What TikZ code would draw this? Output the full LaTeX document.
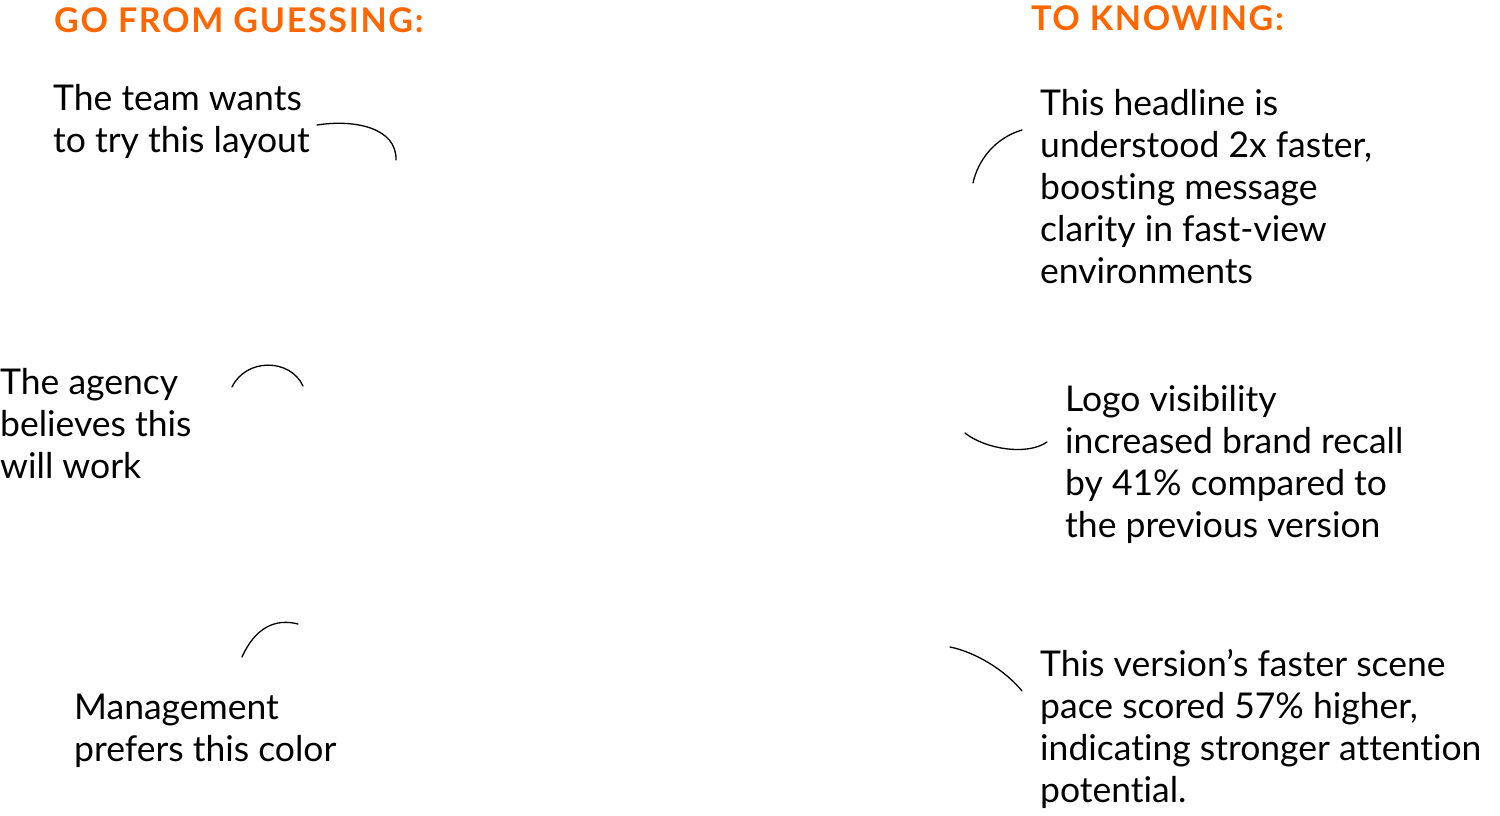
\documentclass[tikz,border=0pt]{standalone}
\usepackage{fontspec}
\setmainfont{Lato}[Ligatures=NoCommon]
\newfontfamily\headfont[LetterSpace=5.0]{Lato}
\usepackage{tikz}
\usetikzlibrary{positioning}
\definecolor{myorange}{RGB}{255,102,0}

\begin{document}
\begin{tikzpicture}[x=1pt, y=-1pt,
    note/.style={anchor=base west, inner sep=0pt, align=left, font=\fontsize{35.5}{42}\selectfont},
    heading/.style={anchor=base west, inner sep=0pt, text=myorange, font=\headfont\fontsize{34}{40}\selectfont\bfseries},
    swoosh/.style={line width=1.3pt, line cap=round}]
    \useasboundingbox (0,0) rectangle (1500,815);
    \node [heading] (guess) at (54,32) {GO FROM GUESSING:};
    \node [heading] (know) at (1031,30) {TO KNOWING:};
    % nodes sit on the baseline of their last line
    \node [note] (team) at (53,152) {The team wants\\to try this layout};
    \node [note] (agency) at (0,478) {The agency\\believes this\\will work};
    \node [note] (mgmt) at (74,761) {Management\\prefers this color};
    \node [note] (headline) at (1040,283) {This headline is\\understood 2x faster,\\boosting message\\clarity in fast-view\\environments};
    \node [note] (logo) at (1065,537) {Logo visibility\\increased brand recall\\by 41\% compared to\\the previous version};
    \node [note] (pace) at (1040,802) {This version’s faster scene\\pace scored 57\% higher,\\indicating stronger attention\\potential.};
    % hand drawn strokes
    \draw [swoosh] (317,125) .. controls (355,119) and (397,128) .. (396,160);
    \draw [swoosh] (232,387) .. controls (246,358) and (290,358) .. (303,386);
    \draw [swoosh] (242,657) .. controls (255,628) and (275,618) .. (298,624);
    \draw [swoosh] (973,183) .. controls (978,160) and (995,138) .. (1022,130);
    \draw [swoosh] (965,433) .. controls (985,449) and (1027,456) .. (1047,442);
    \draw [swoosh] (950,647) .. controls (975,652) and (1005,670) .. (1022,691);
  \end{tikzpicture}
\end{document}
